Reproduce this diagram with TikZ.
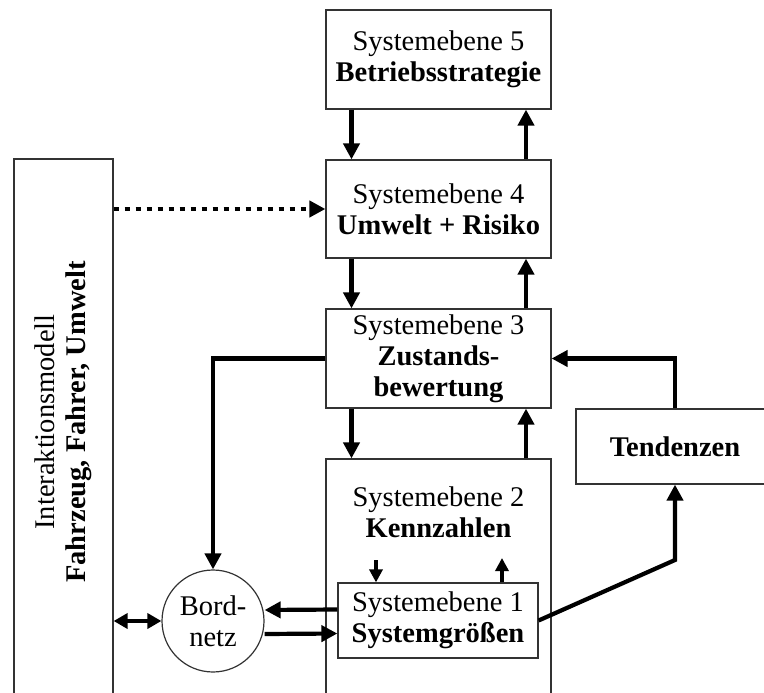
\documentclass[tikz,border=0pt]{standalone}
\usepackage{fontspec}
\setmainfont{Liberation Serif}
\usetikzlibrary{arrows.meta}
\begin{document}
\begin{tikzpicture}[x=1pt,y=-1pt,
  txt/.style={font=\fontsize{28.5}{31}\selectfont, align=center},
  box/.style={draw=black!80, line width=1.2pt, rectangle, inner sep=0pt, txt},
  arr/.style={line width=4.2pt, -{Triangle[length=16pt,width=16pt]}},
  sarr/.style={line width=3.6pt, -{Triangle[length=13pt,width=13pt]}},
  darr/.style={line width=4.2pt, {Triangle[length=14pt,width=15pt]}-{Triangle[length=14pt,width=15pt]}},
  dotarr/.style={line width=4.5pt, dash pattern=on 5.5pt off 5.5pt, -{Triangle[length=16pt,width=16pt]}}
]
\useasboundingbox (0,0) rectangle (764,693);

% system levels
\node[box, minimum width=225pt, minimum height=99pt] (se5) at (438.5,59.5)
  {Systemebene 5\\\textbf{Betriebsstrategie}};
\node[box, minimum width=225pt, minimum height=98pt] (se4) at (438.5,209)
  {Systemebene 4\\\textbf{Umwelt + Risiko}};
\node[box, minimum width=225pt, minimum height=99pt] (se3) at (438.5,358.5)
  {Systemebene 3\\\textbf{Zustands-}\\\textbf{bewertung}};
\node[box, minimum width=225pt, minimum height=261pt] (se2) at (438.5,589.5) {};
\node[txt] (se2t) at (438.5,512) {Systemebene 2\\\textbf{Kennzahlen}};
\node[box, minimum width=200pt, minimum height=75pt] (se1) at (438,620.5)
  {Systemebene 1\\\textbf{Systemgrößen}};

% side blocks
\node[box, minimum width=198pt, minimum height=75pt] (tend) at (675,446.5)
  {\textbf{Tendenzen}};
\node[box, minimum width=99pt, minimum height=561pt] (im) at (63.5,439.5) {};
\node[txt, rotate=90] (imt) at (63,422)
  {Interaktionsmodell\\\textbf{Fahrzeug, Fahrer, Umwelt}};
\node[box, circle, minimum size=102pt] (bn) at (213,621) {Bord-\\netz};

% columns of the vertical links
\coordinate (xl) at (351.5,0);
\coordinate (xr) at (526,0);
\coordinate (d1) at (376,560);
\coordinate (u1) at (502,558);
\coordinate (k1) at (675,560);

\draw[arr] (se5.south -| xl) -- (se4.north -| xl);
\draw[arr] (se4.north -| xr) -- (se5.south -| xr);
\draw[arr] (se4.south -| xl) -- (se3.north -| xl);
\draw[arr] (se3.north -| xr) -- (se4.south -| xr);
\draw[arr] (se3.south -| xl) -- (se2.north -| xl);
\draw[arr] (se2.north -| xr) -- (se3.south -| xr);

\draw[sarr] (d1) -- (d1 |- se1.north);
\draw[sarr] (u1 |- se1.north) -- (u1);

\draw[arr] (se3.west) -| (bn.north);
\draw[arr] (tend.north) |- (se3.east);
\draw[arr] (se1.east) -- (k1) -- (tend.south);

\draw[arr] ([yshift=11pt]se1.west) -- ([yshift=11pt]bn.east);
\draw[arr] ([yshift=-13pt]bn.east) -- ([yshift=-13pt]se1.west);
\draw[darr] (im.east |- bn.west) -- (bn.west);
\draw[dotarr] (im.east |- se4.west) -- (se4.west);
\end{tikzpicture}
\end{document}
